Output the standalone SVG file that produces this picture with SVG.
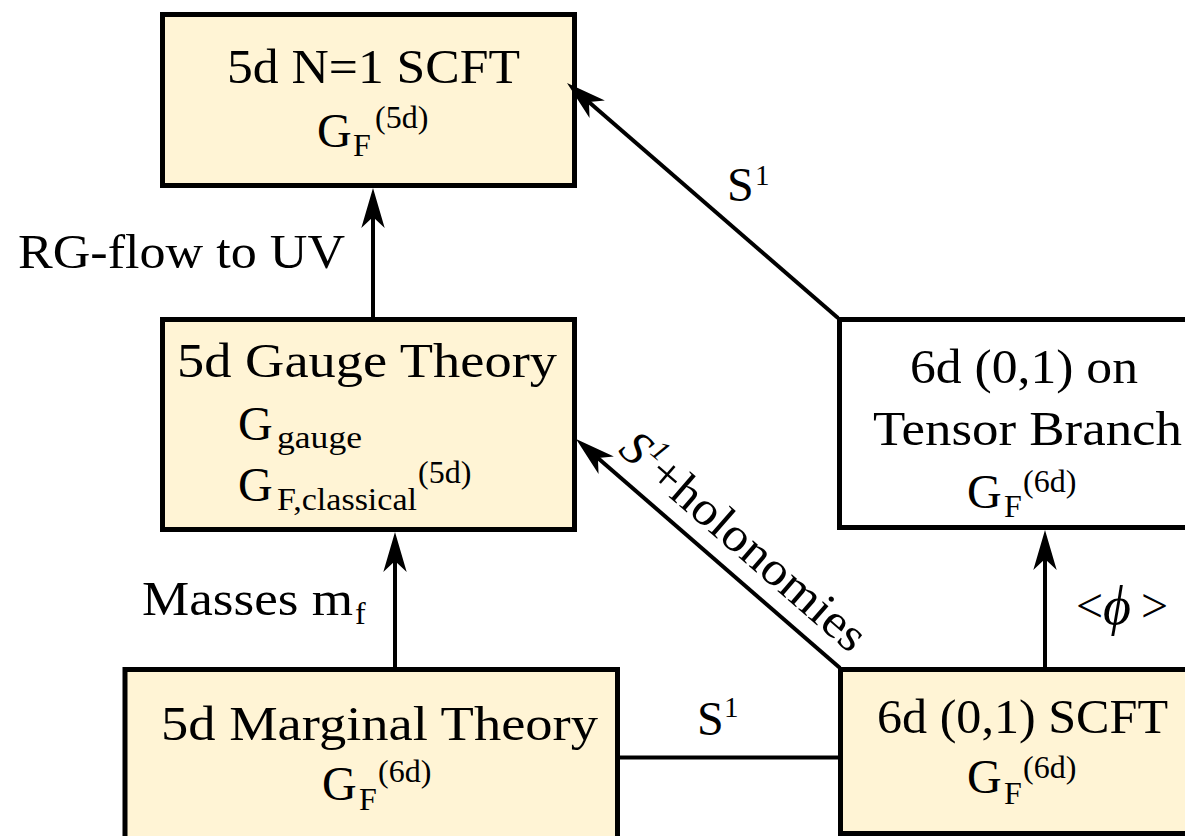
<svg xmlns="http://www.w3.org/2000/svg" width="1185" height="836" viewBox="0 0 1185 836">
<style>
.box{stroke:#000;stroke-width:5;}
.y{fill:#FFF4D5;}
.w{fill:#FFFFFF;}
.t{font-family:"Liberation Serif","DejaVu Serif",serif;font-size:48px;fill:#000;}
.s{font-size:32px;}
.ss{font-size:29px;}
.i{font-style:italic;}
.ln{stroke:#000;stroke-width:4;fill:none;}
</style>
<defs>
<marker id="ah" markerUnits="userSpaceOnUse" markerWidth="44" markerHeight="26" viewBox="-42 -13 44 26" refX="-27" refY="0" orient="auto">
<path d="M0,0 L-40,-11.7 L-29,0 L-40,11.7 Z" fill="#000"/>
</marker>
</defs>
<rect width="1185" height="836" fill="#fff"/>

<g id="n-5d-scft">
<rect class="box y" x="162.5" y="14.5" width="412" height="171"/>
<text class="t" x="227" y="83" textLength="293" lengthAdjust="spacingAndGlyphs">5d N=1 SCFT</text>
<text class="t" x="317" y="147">G</text>
<text class="t s" x="353" y="156">F</text>
<text class="t s" x="375" y="128">(5d)</text>
</g>

<g id="n-5d-gauge">
<rect class="box y" x="162.5" y="319.5" width="412" height="210"/>
<text class="t" x="177" y="377" textLength="380" lengthAdjust="spacingAndGlyphs">5d Gauge Theory</text>
<text class="t" x="238" y="440">G</text>
<text class="t s" x="277" y="448" textLength="85" lengthAdjust="spacingAndGlyphs">gauge</text>
<text class="t" x="238" y="501">G</text>
<text class="t s" x="277" y="510" textLength="140" lengthAdjust="spacingAndGlyphs">F,classical</text>
<text class="t s" x="418" y="483">(5d)</text>
</g>

<g id="n-6d-tensor">
<rect class="box w" x="839.5" y="319.5" width="360" height="208"/>
<text class="t" x="910" y="383" textLength="228" lengthAdjust="spacingAndGlyphs">6d (0,1) on</text>
<text class="t" x="873" y="445" textLength="309" lengthAdjust="spacingAndGlyphs">Tensor Branch</text>
<text class="t" x="967" y="508">G</text>
<text class="t s" x="1004" y="517">F</text>
<text class="t s" x="1023" y="492">(6d)</text>
</g>

<g id="n-5d-marginal">
<rect class="box y" x="125" y="669.5" width="492.5" height="200"/>
<text class="t" x="161" y="740" textLength="437" lengthAdjust="spacingAndGlyphs">5d Marginal Theory</text>
<text class="t" x="322" y="800">G</text>
<text class="t s" x="359" y="810">F</text>
<text class="t s" x="378" y="782">(6d)</text>
</g>

<g id="n-6d-scft">
<rect class="box y" x="840.5" y="669.5" width="360" height="164"/>
<text class="t" x="877" y="733" textLength="291" lengthAdjust="spacingAndGlyphs">6d (0,1) SCFT</text>
<text class="t" x="967" y="793">G</text>
<text class="t s" x="1004" y="804">F</text>
<text class="t s" x="1023" y="778">(6d)</text>
</g>

<g id="connectors">
<line class="ln" x1="373" y1="319" x2="373" y2="215" marker-end="url(#ah)"/>
<line class="ln" x1="395" y1="668" x2="395" y2="559" marker-end="url(#ah)"/>
<line class="ln" x1="1045" y1="668" x2="1045" y2="557" marker-end="url(#ah)"/>
<line class="ln" x1="838" y1="318" x2="587.4" y2="100.7" marker-end="url(#ah)"/>
<line class="ln" x1="840" y1="668" x2="596.4" y2="456.7" marker-end="url(#ah)"/>
<line class="ln" x1="617" y1="757.5" x2="840" y2="757.5"/>

<text class="t" x="18" y="268" textLength="327" lengthAdjust="spacingAndGlyphs">RG-flow to UV</text>
<text class="t" x="727" y="201">S</text>
<text class="t ss" x="755" y="185">1</text>
<text class="t" x="697" y="735">S</text>
<text class="t ss" x="724" y="717">1</text>
<text class="t" x="142" y="615" textLength="211" lengthAdjust="spacingAndGlyphs">Masses m</text>
<text class="t s" x="355" y="624">f</text>
<text class="t" x="1076" y="622">&lt;</text>
<text class="t i" x="1103" y="624" style="font-size:54px">ϕ</text>
<text class="t" x="1141" y="622">&gt;</text>
<g transform="translate(617,452) rotate(40.9)">
<text class="t i" x="0" y="0">S</text>
<text class="t ss i" x="25" y="-20">1</text>
<text class="t" x="38" y="0" textLength="271" lengthAdjust="spacingAndGlyphs">+holonomies</text>
</g>
</g>
</svg>
